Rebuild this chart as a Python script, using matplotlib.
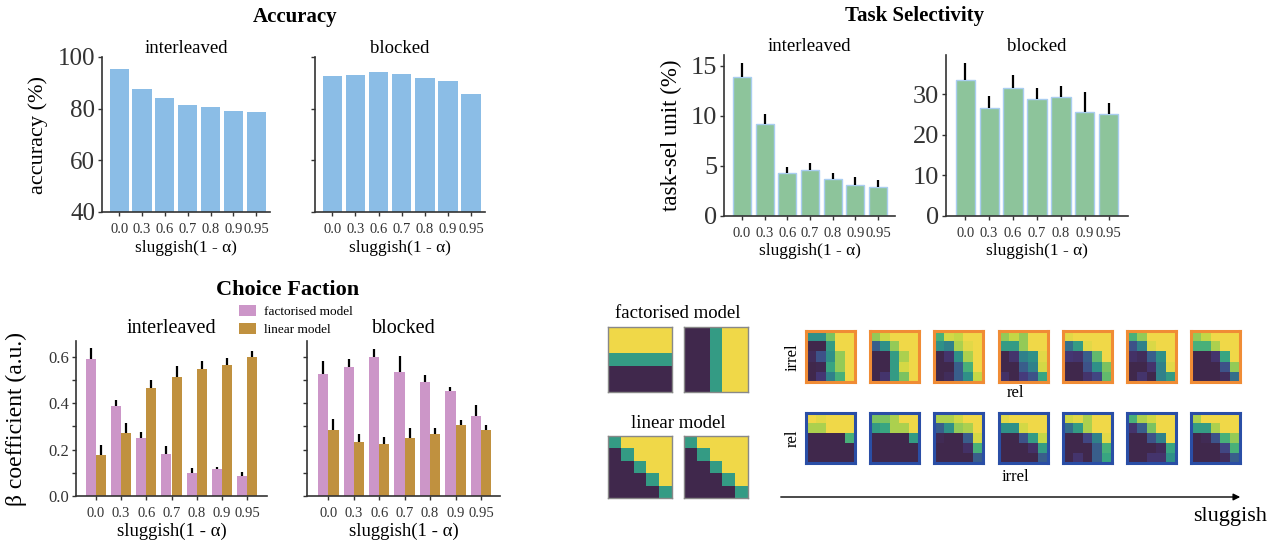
import numpy as np
import matplotlib
matplotlib.use("Agg")
import matplotlib.pyplot as plt
from matplotlib.colors import LinearSegmentedColormap

plt.rcParams['font.family'] = ['Liberation Serif', 'DejaVu Serif']
plt.rcParams['mathtext.fontset'] = 'stix'

W, H = 1286, 546

# ---------------- data ----------------
sluggish = ["0.0", "0.3", "0.6", "0.7", "0.8", "0.9", "0.95"]

acc_interleaved = [95.5, 87.8, 84.3, 81.4, 80.7, 79.0, 78.7]
acc_blocked = [92.6, 92.9, 94.1, 93.4, 91.7, 90.6, 85.8]

tasksel_interleaved = [13.9, 9.2, 4.3, 4.55, 3.7, 3.1, 2.85]
tasksel_interleaved_err = [1.4, 1.0, 0.55, 0.75, 0.55, 0.8, 0.75]
tasksel_blocked = [33.4, 26.5, 31.4, 28.7, 29.2, 25.6, 25.1]
tasksel_blocked_err = [4.3, 2.9, 3.3, 2.9, 2.8, 4.8, 2.6]

beta_fact_interleaved = [0.59, 0.388, 0.252, 0.183, 0.100, 0.117, 0.088]
beta_fact_interleaved_err = [0.05, 0.026, 0.023, 0.034, 0.021, 0.010, 0.016]
beta_lin_interleaved = [0.177, 0.270, 0.467, 0.515, 0.547, 0.565, 0.599]
beta_lin_interleaved_err = [0.043, 0.044, 0.033, 0.046, 0.037, 0.032, 0.025]

beta_fact_blocked = [0.525, 0.555, 0.599, 0.535, 0.492, 0.453, 0.345]
beta_fact_blocked_err = [0.058, 0.036, 0.037, 0.069, 0.029, 0.019, 0.046]
beta_lin_blocked = [0.286, 0.234, 0.224, 0.249, 0.268, 0.306, 0.285]
beta_lin_blocked_err = [0.046, 0.032, 0.032, 0.043, 0.024, 0.022, 0.021]

model_factorised_a = [[1, 1, 1, 1, 1],
                      [1, 1, 1, 1, 1],
                      [0.5, 0.5, 0.5, 0.5, 0.5],
                      [0, 0, 0, 0, 0],
                      [0, 0, 0, 0, 0]]
model_factorised_b = [[0, 0, 0.5, 1, 1]] * 5
model_linear = [[0.5, 1, 1, 1, 1],
                [0, 0.5, 1, 1, 1],
                [0, 0, 0.5, 1, 1],
                [0, 0, 0, 0.5, 1],
                [0, 0, 0, 0, 0.5]]

rsa_irrel_rel = [
    [[0.45, 0.45, 0.70, 1, 1], [0, 0, 0.5, 1, 1], [0.05, 0.25, 0.45, 0.75, 1],
     [0, 0.02, 0.55, 0.75, 1], [0, 0.12, 0.40, 0.60, 1]],
    [[0.75, 0.88, 1, 1, 1], [0.30, 0.45, 0.75, 1, 1], [0, 0, 0.5, 0.8, 1],
     [0, 0, 0.5, 0.9, 1], [0, 0.10, 0.5, 0.7, 1]],
    [[0.60, 0.90, 0.85, 1, 1], [0.45, 0.40, 0.80, 0.95, 1], [0, 0.10, 0.45, 0.80, 1],
     [0, 0, 0.30, 0.60, 1], [0, 0.05, 0.30, 0.45, 0.85]],
    [[0.75, 0.85, 0.75, 1, 1], [0.50, 0.50, 0.75, 1, 1], [0, 0.10, 0.40, 0.45, 0.95],
     [0, 0, 0.30, 0.40, 0.90], [0.08, 0, 0.15, 0.25, 0.55]],
    [[0.95, 1, 1, 1, 1], [0.35, 0.50, 0.95, 1, 1], [0.12, 0.10, 0.30, 0.65, 1],
     [0, 0, 0.25, 0.45, 0.70], [0, 0, 0.10, 0.20, 0.65]],
    [[0.60, 0.75, 1, 1, 1], [0.25, 0.40, 0.92, 1, 1], [0.08, 0.05, 0.30, 0.45, 1],
     [0, 0, 0.10, 0.40, 0.95], [0, 0.10, 0, 0.40, 0.50]],
    [[0.75, 0.85, 1, 1, 1], [0.60, 0.60, 0.80, 1, 1], [0, 0, 0.10, 0.55, 1],
     [0, 0, 0, 0.25, 0.75], [0, 0, 0, 0.05, 0.35]],
]
rsa_rel_irrel = [
    [[1, 0.95, 1, 1, 1], [0.80, 0.80, 1, 1, 1], [0, 0, 0, 0, 0.60],
     [0, 0, 0, 0, 0], [0, 0, 0, 0, 0]],
    [[0.70, 0.70, 0.80, 1, 1], [0.50, 0.55, 0.80, 0.80, 1], [0, 0, 0, 0, 0.50],
     [0, 0, 0, 0, 0], [0, 0, 0, 0, 0]],
    [[0.80, 0.80, 0.88, 1, 1], [0.30, 0.45, 0.75, 0.80, 1], [0.03, 0, 0, 0.30, 0.90],
     [0, 0, 0, 0.08, 0.60], [0, 0, 0, 0, 0.30]],
    [[0.95, 1, 1, 1, 1], [0.45, 0.45, 0.90, 1, 1], [0, 0, 0.25, 0.50, 0.85],
     [0, 0, 0, 0.08, 0.50], [0, 0, 0, 0, 0.30]],
    [[0.88, 0.95, 0.80, 1, 1], [0.35, 0.50, 0.80, 1, 1], [0, 0, 0.20, 0.40, 0.95],
     [0, 0, 0, 0.30, 0.60], [0, 0.10, 0, 0.30, 0.55]],
    [[0.60, 0.80, 0.88, 1, 1], [0.10, 0.30, 0.70, 1, 1], [0, 0, 0.25, 0.40, 1],
     [0, 0, 0, 0.05, 0.55], [0, 0, 0.10, 0.10, 0.45]],
    [[0.80, 1, 1, 1, 1], [0.50, 0.50, 0.80, 1, 1], [0, 0.03, 0.25, 0.60, 0.75],
     [0, 0, 0, 0.20, 0.60], [0, 0, 0, 0.05, 0.30]],
]

# ---------------- styles ----------------
C_ACC = '#8bbde6'
C_TS = '#8dc49b'
C_TS_EDGE = '#a9cdf0'
C_FACT = '#cc96c8'
C_LIN = '#c0913f'
C_ORANGE = '#f08c35'
C_BLUE = '#2a4ea6'
cmap = LinearSegmentedColormap.from_list(
    'vir', ['#40284c', '#463a7c', '#3b5a8c', '#2e8b8a', '#3aab80', '#82c55e', '#c8d845', '#f0d848'])

fig = plt.figure(figsize=(W / 100, H / 100), dpi=100)


def ax_px(x0, y0, x1, y1):
    return fig.add_axes([x0 / W, 1 - y1 / H, (x1 - x0) / W, (y1 - y0) / H])


def style(ax):
    for s in ['top', 'right']:
        ax.spines[s].set_visible(False)
    for s in ['left', 'bottom']:
        ax.spines[s].set_color('#333333')
        ax.spines[s].set_linewidth(1.2)
    ax.tick_params(direction='out', length=3, width=1, colors='#333333')


x = np.arange(len(sluggish))

# ---------------- Accuracy ----------------
for i, (vals, rng, title) in enumerate([(acc_interleaved, (102, 270), 'interleaved'),
                                        (acc_blocked, (315, 485), 'blocked')]):
    ax = ax_px(rng[0], 57, rng[1], 212)
    style(ax)
    ax.bar(x, vals, width=0.84, color=C_ACC)
    ax.set_ylim(40, 100)
    ax.set_xlim(-0.75, 6.6)
    ax.set_yticks([40, 60, 80, 100])
    ax.set_xticks(x)
    ax.set_xticklabels(sluggish, fontsize=10.5)
    ax.tick_params(axis='y', labelsize=18, pad=2)
    ax.tick_params(axis='x', pad=5)
    ax.set_xlabel('sluggish(1 - α)', fontsize=12.5, labelpad=3)
    if i == 0:
        ax.set_ylabel('accuracy (%)', fontsize=16)
        ax.yaxis.set_label_coords(-0.32, 0.5)
    else:
        ax.set_yticklabels([])
    ax.set_title(title, fontsize=13.5, pad=3)

fig.text(295 / W, 1 - 17 / H, 'Accuracy', fontsize=15, fontweight='bold', ha='center', va='center')

# ---------------- Task selectivity ----------------
for i, (vals, err, rng, ylim, ticks, xl, title) in enumerate([
        (tasksel_interleaved, tasksel_interleaved_err, (724, 895), (0, 16.1), [0, 5, 10, 15], (-0.8, 6.75), 'interleaved'),
        (tasksel_blocked, tasksel_blocked_err, (946, 1128), (0, 39.6), [0, 10, 20, 30], (-0.8, 6.8), 'blocked')]):
    ax = ax_px(rng[0], 55, rng[1], 216)
    style(ax)
    ax.bar(x, vals, width=0.8, color=C_TS, edgecolor=C_TS_EDGE, linewidth=1)
    ax.errorbar(x, vals, yerr=[np.zeros(len(err)), err], fmt='none', ecolor='black',
                elinewidth=1.6, capsize=0)
    ax.set_ylim(*ylim)
    ax.set_xlim(*xl)
    ax.set_yticks(ticks)
    ax.set_xticks(x)
    ax.set_xticklabels(sluggish, fontsize=10.5)
    ax.tick_params(axis='y', labelsize=19, pad=2)
    ax.tick_params(axis='x', pad=5)
    ax.set_xlabel('sluggish(1 - α)', fontsize=12.5, labelpad=2)
    if i == 0:
        ax.set_ylabel('task-sel unit (%)', fontsize=16.5)
        ax.yaxis.set_label_coords(-0.245, 0.5)
    ax.set_title(title, fontsize=13.5, pad=3)

fig.text(915 / W, 1 - 16 / H, 'Task Selectivity', fontsize=15, fontweight='bold', ha='center', va='center')

# ---------------- Choice faction ----------------
bw = 0.4
for i, (fv, fe, lv, le, rng, xl, title) in enumerate([
        (beta_fact_interleaved, beta_fact_interleaved_err, beta_lin_interleaved, beta_lin_interleaved_err,
         (76, 267), (-0.78, 6.78), 'interleaved'),
        (beta_fact_blocked, beta_fact_blocked_err, beta_lin_blocked, beta_lin_blocked_err,
         (307, 500), (-0.84, 6.75), 'blocked')]):
    ax = ax_px(rng[0], 341, rng[1], 496)
    style(ax)
    b1 = ax.bar(x - bw / 2, fv, width=bw, color=C_FACT, label='factorised model')
    b2 = ax.bar(x + bw / 2, lv, width=bw, color=C_LIN, label='linear model')
    ax.errorbar(x - bw / 2, fv, yerr=[np.zeros(len(fe)), fe], fmt='none', ecolor='black',
                elinewidth=1.6, capsize=0)
    ax.errorbar(x + bw / 2, lv, yerr=[np.zeros(len(le)), le], fmt='none', ecolor='black',
                elinewidth=1.6, capsize=0)
    ax.set_ylim(0, 0.669)
    ax.set_xlim(*xl)
    ax.set_xticks(x)
    ax.set_xticklabels(sluggish, fontsize=10.5)
    ax.tick_params(axis='x', pad=5)
    ax.set_xlabel('sluggish(1 - α)', fontsize=13.5, labelpad=2)
    if i == 0:
        ax.set_yticks([0.0, 0.2, 0.4, 0.6])
        ax.set_yticklabels(['0.0', '0.2', '0.4', '0.6'])
        ax.set_yticks([0.1, 0.3, 0.5], minor=True)
        ax.tick_params(axis='y', which='minor', length=3, width=1, colors='#333333')
        ax.tick_params(axis='y', labelsize=12, pad=2)
        ax.set_ylabel('β coefficient (a.u.)', fontsize=17)
        ax.yaxis.set_label_coords(-0.257, 0.5)
        handles = [b1, b2]
    else:
        ax.set_yticks([0.0, 0.1, 0.2, 0.3, 0.4, 0.5, 0.6])
        ax.set_yticklabels([])
    ax.set_title(title, fontsize=14.5, pad=6)

fig.text(288 / W, 1 - 290 / H, 'Choice Faction', fontsize=16, fontweight='bold', ha='center', va='center')
fig.legend(handles=handles, labels=['factorised model', 'linear model'],
           loc='upper left', bbox_to_anchor=(239 / W, 1 - 305 / H), frameon=False,
           fontsize=9.5, handlelength=1.3, handleheight=0.9, handletextpad=0.6,
           labelspacing=0.35, borderaxespad=0, borderpad=0)

# ---------------- model matrices ----------------
def mat_ax(x0, y0, x1, y1, m, ec='#888888', lw=1.0):
    a = ax_px(x0, y0, x1, y1)
    a.imshow(np.array(m), cmap=cmap, vmin=0, vmax=1, aspect='auto', interpolation='nearest')
    a.set_xticks([])
    a.set_yticks([])
    for s in a.spines.values():
        s.set_color(ec)
        s.set_linewidth(lw)
    return a

mat_ax(608, 327, 672, 392, model_factorised_a)
mat_ax(684, 327, 748, 392, model_factorised_b)
mat_ax(608, 436, 672, 498, model_linear)
mat_ax(684, 436, 748, 498, model_linear)
fig.text(678 / W, 1 - 313 / H, 'factorised model', fontsize=13.5, ha='center', va='center')
fig.text(678 / W, 1 - 423 / H, 'linear model', fontsize=13.5, ha='center', va='center')

# ---------------- RSA matrices ----------------
pitch = 64.2
for k in range(7):
    x0 = 806 + k * pitch
    mat_ax(x0, 331, x0 + 49, 382, rsa_irrel_rel[k], ec=C_ORANGE, lw=2.2)
    mat_ax(x0, 413, x0 + 49, 463, rsa_rel_irrel[k], ec=C_BLUE, lw=2.2)

fig.text(793 / W, 1 - 357 / H, 'irrel', fontsize=12, rotation=90, ha='center', va='center')
fig.text(1015 / W, 1 - 393 / H, 'rel', fontsize=12, ha='center', va='center')
fig.text(793 / W, 1 - 438 / H, 'rel', fontsize=12, rotation=90, ha='center', va='center')
fig.text(1015 / W, 1 - 477 / H, 'irrel', fontsize=12, ha='center', va='center')

fig.add_artist(matplotlib.patches.FancyArrowPatch(
    (778 / W, 1 - 497 / H), (1243 / W, 1 - 497 / H), transform=fig.transFigure,
    arrowstyle='-|>', mutation_scale=10, color='black', linewidth=1))
fig.text(1230 / W, 1 - 517 / H, 'sluggish', fontsize=16, ha='center', va='center')

fig.savefig('out.png', dpi=100)
